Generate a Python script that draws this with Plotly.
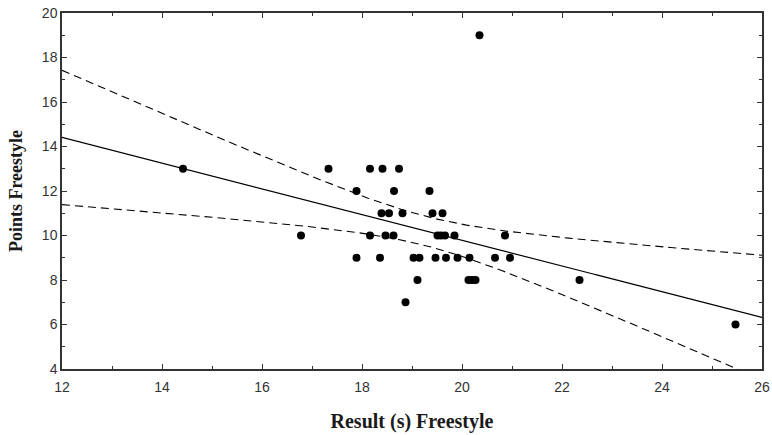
import numpy as np
import plotly.graph_objects as go

# Data
result_s = [14.42, 16.78, 17.33, 17.89, 17.89, 18.16, 18.16, 18.36, 18.39, 18.41,
            18.47, 18.54, 18.63, 18.64, 18.74, 18.81, 18.87, 19.03, 19.11, 19.15,
            19.35, 19.41, 19.47, 19.51, 19.58, 19.61, 19.66, 19.68, 19.85, 19.91,
            20.13, 20.15, 20.20, 20.27, 20.35, 20.66, 20.86, 20.96, 22.35, 25.47]
points = [13, 10, 13, 12, 9, 13, 10, 9, 11, 13,
          10, 11, 10, 12, 13, 11, 7, 9, 8, 9,
          12, 11, 9, 10, 10, 11, 10, 9, 10, 9,
          8, 9, 8, 8, 19, 9, 10, 9, 8, 6]

x_ticks = [12, 14, 16, 18, 20, 22, 24, 26]
y_ticks = [4, 6, 8, 10, 12, 14, 16, 18, 20]

x = np.array(result_s)
y = np.array(points, dtype=float)
n = len(x)
slope, intercept = np.polyfit(x, y, 1)
resid = y - (slope * x + intercept)
s = np.sqrt(np.sum(resid ** 2) / (n - 2))
xm = x.mean()
sxx = np.sum((x - xm) ** 2)
t_crit = 2.024  # 95%, df = 38

xg = np.linspace(12, 26, 200)
yg = slope * xg + intercept
half = t_crit * s * np.sqrt(1 / n + (xg - xm) ** 2 / sxx)

fig = go.Figure()
fig.add_trace(go.Scatter(x=xg, y=yg + half, mode="lines",
                         line=dict(color="black", width=1.1, dash="8px,5px"), hoverinfo="skip"))
fig.add_trace(go.Scatter(x=xg, y=yg - half, mode="lines",
                         line=dict(color="black", width=1.1, dash="8px,5px"), hoverinfo="skip"))
fig.add_trace(go.Scatter(x=xg, y=yg, mode="lines",
                         line=dict(color="black", width=1.2), hoverinfo="skip"))
fig.add_trace(go.Scatter(x=result_s, y=points, mode="markers",
                         marker=dict(color="black", size=8), cliponaxis=False))

axis_common = dict(
    showgrid=False, zeroline=False, showline=True, linecolor="#333333", linewidth=1.5,
    mirror="ticks", ticks="inside", ticklen=5, tickcolor="#333333", tickwidth=1,
    automargin=False,
    tickfont=dict(family="Liberation Sans, Arial", size=14, color="#333333"),
)

fig.update_layout(
    width=772, height=435,
    margin=dict(l=62, r=10, t=13, b=66),
    paper_bgcolor="white", plot_bgcolor="white",
    showlegend=False,
    xaxis=dict(range=[12, 26], tickvals=x_ticks, ticklabelstandoff=4,
               minor=dict(dtick=1, ticks="inside", ticklen=3, tickcolor="#333333"),
               title=dict(text="<b>Result (s) Freestyle</b>",
                          font=dict(family="Liberation Serif, Times New Roman", size=20, color="#1a1a1a"),
                          standoff=20),
               **axis_common),
    yaxis=dict(range=[4, 20], tickvals=y_ticks,
               minor=dict(dtick=1, ticks="inside", ticklen=3, tickcolor="#333333"),
               title=dict(text="<b>Points Freestyle</b>",
                          font=dict(family="Liberation Serif, Times New Roman", size=18, color="#1a1a1a"),
                          standoff=15),
               **axis_common),
)

fig.write_html("out.html", config={"displayModeBar": False},
               post_script="document.body.style.margin='0';")
